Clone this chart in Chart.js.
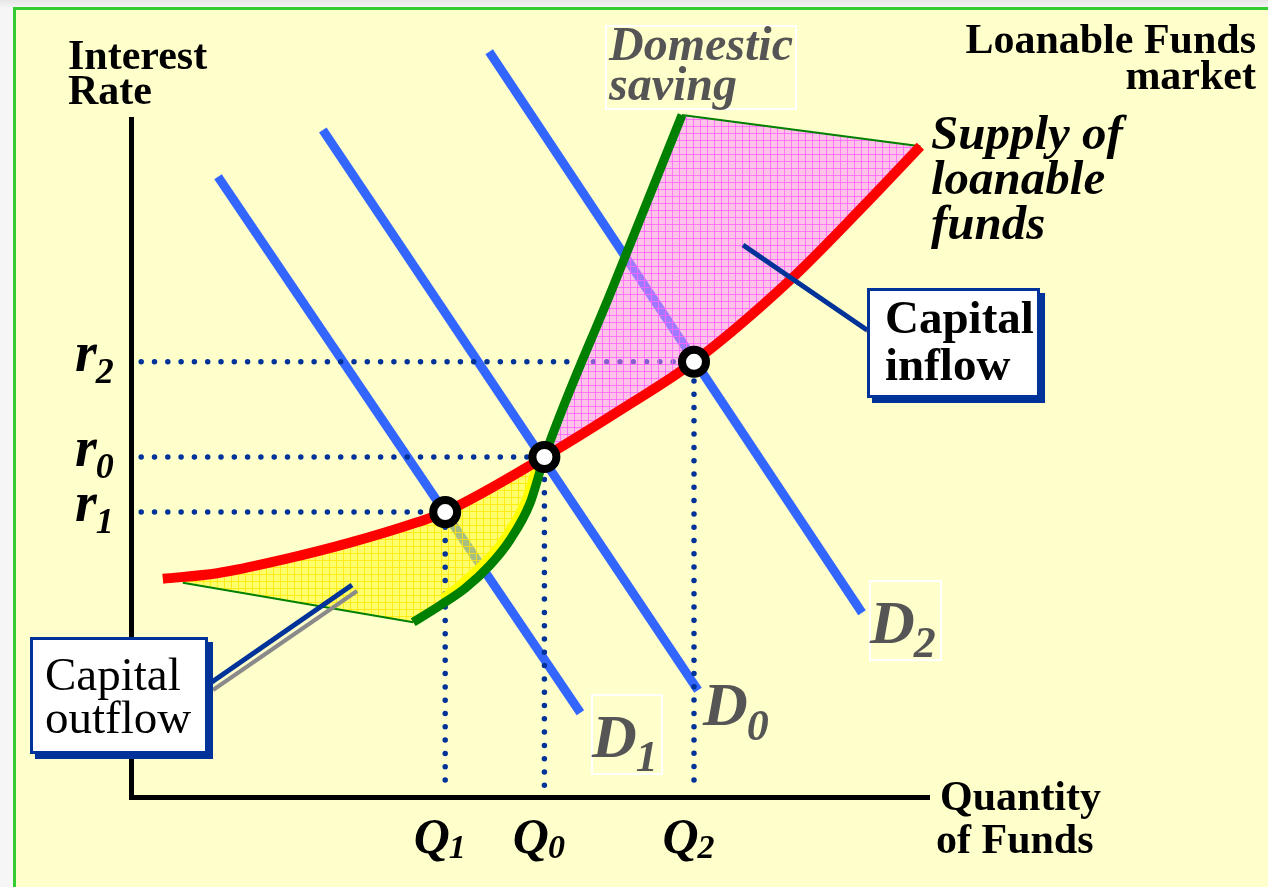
<!DOCTYPE html>
<html><head><meta charset="utf-8">
<script src="https://cdn.jsdelivr.net/npm/chart.js@4.4.1/dist/chart.umd.min.js"></script>
<style>html,body{margin:0;padding:0;background:#f2f2f2;}canvas{display:block}</style>
</head><body>
<canvas id="c" width="1268" height="887"></canvas>
<script>
// ---- data (quantity of funds on x, interest rate on y; both 0..100) ----
// Supply of loanable funds (red curve)
const supplyQ = [4.1, 10.9, 19.1, 27.5, 35.9, 39.4, 51.8, 61.3, 70.5, 82.5, 91.6, 98.8];
const supplyR = [32.1, 32.9, 34.9, 37.4, 40.4, 41.9, 50.0, 56.9, 64.0, 76.0, 86.8, 95.7];
// Domestic saving (green curve)
const savingQ = [35.4, 38.8, 41.9, 45.0, 47.5, 50.0, 51.8, 60.4, 69.0];
const savingR = [25.7, 28.2, 30.7, 34.1, 37.8, 43.2, 50.0, 75.1, 100.3];
// bright yellow edge just inside the saving curve
const edgeQ = [39.0, 41.4, 44.5, 46.9, 49.3, 50.6];
const edgeR = [29.3, 31.5, 34.9, 38.4, 43.5, 48.1];
// Demand curves
const d1Q = [11.0, 56.3], d1R = [91.2, 12.4];
const d0Q = [24.1, 71.0], d0R = [98.1, 15.7];
const d2Q = [44.9, 91.5], d2R = [109.6, 27.1];
// Equilibria: E1, E0, E2
const eqQ = [39.4, 51.8, 70.5];
const eqR = [41.9, 50.0, 64.0];
const eqSubs = ['1', '0', '2'];
const demandSubs = ['1', '0', '2'];
const guideStart = 1.4, guideBottom = 1.5;

const SERIF = '"Liberation Serif","Times New Roman",serif';
const NAVY = '#003399', BLUE = '#3366ff';
const pts = (xs, ys) => xs.map((x, i) => ({x, y: ys[i]}));
const SUP_E0 = supplyQ.indexOf(eqQ[1]);
const SAV_E0 = savingQ.indexOf(eqQ[1]);

function patternCanvas(base, line, size) {
  const c = document.createElement('canvas'); c.width = c.height = size;
  const g = c.getContext('2d');
  g.fillStyle = base; g.fillRect(0, 0, size, size);
  g.fillStyle = line; g.fillRect(0, 0, size, 1); g.fillRect(0, 0, 1, size);
  return c;
}
const pinkPat = patternCanvas('rgba(255,140,255,0.52)', 'rgba(255,100,255,0.8)', 7);
const yellowPat = patternCanvas('rgba(255,255,40,0.58)', 'rgba(255,230,0,0.8)', 7);

function metaByKey(chart, key) {
  const i = chart.data.datasets.findIndex(d => d.key === key);
  const m = chart.getDatasetMeta(i);
  if (m.dataset && m.dataset.updateControlPoints) m.dataset.updateControlPoints(chart.chartArea, 'x');
  return m;
}
function range(a, b) { const r = []; if (a <= b) for (let i = a; i <= b; i++) r.push(i); else for (let i = a; i >= b; i--) r.push(i); return r; }
function trace(ctx, meta, idxs, first) {
  const P = meta.data;
  idxs.forEach((id, k) => {
    const p = P[id];
    if (k === 0) { first ? ctx.moveTo(p.x, p.y) : ctx.lineTo(p.x, p.y); return; }
    const q = P[idxs[k - 1]];
    if (id > idxs[k - 1]) {
      if (q.cp2x !== undefined && p.cp1x !== undefined) ctx.bezierCurveTo(q.cp2x, q.cp2y, p.cp1x, p.cp1y, p.x, p.y); else ctx.lineTo(p.x, p.y);
    } else {
      if (q.cp1x !== undefined && p.cp2x !== undefined) ctx.bezierCurveTo(q.cp1x, q.cp1y, p.cp2x, p.cp2y, p.x, p.y); else ctx.lineTo(p.x, p.y);
    }
  });
}
function drawRegion(chart, which) {
  const ctx = chart.ctx;
  const sup = metaByKey(chart, 'supply'), sav = metaByKey(chart, 'saving');
  const last = savingQ.length - 1;
  ctx.save(); ctx.beginPath();
  if (which === 'outflow') {
    trace(ctx, sup, range(0, SUP_E0), true);
    trace(ctx, sav, range(SAV_E0, 0), false);
    ctx.closePath();
    ctx.fillStyle = ctx.createPattern(yellowPat, 'repeat');
  } else {
    trace(ctx, sav, range(SAV_E0, last), true);
    trace(ctx, sup, range(supplyQ.length - 1, SUP_E0), false);
    ctx.closePath();
    ctx.fillStyle = ctx.createPattern(pinkPat, 'repeat');
  }
  ctx.fill(); ctx.restore();
}
function txt(ctx, s, x, y, font, color, align) {
  ctx.font = font; ctx.fillStyle = color; ctx.textAlign = align || 'left'; ctx.textBaseline = 'alphabetic';
  ctx.fillText(s, x, y);
}
function subLabel(ctx, main, sub, x, y, mainPx, subPx, subDy, color, center) {
  ctx.textBaseline = 'alphabetic'; ctx.textAlign = 'left';
  const mf = 'italic bold ' + mainPx + 'px ' + SERIF, sf = 'italic bold ' + subPx + 'px ' + SERIF;
  ctx.font = mf; const w = ctx.measureText(main).width;
  ctx.font = sf; const ws = ctx.measureText(sub).width;
  const sx = center ? x - (w + ws) / 2 : x;
  txt(ctx, main, sx, y, mf, color);
  txt(ctx, sub, sx + w - 1, y + subDy, sf, color);
}
function box(ctx, x, y, w, h) {
  ctx.fillStyle = NAVY; ctx.fillRect(x + 5, y + 5, w, h);
  ctx.fillStyle = '#fff'; ctx.fillRect(x, y, w, h);
  ctx.strokeStyle = NAVY; ctx.lineWidth = 3; ctx.strokeRect(x + 1.5, y + 1.5, w - 3, h - 3);
}
function seg(ctx, x1, y1, x2, y2, color, w) {
  ctx.strokeStyle = color; ctx.lineWidth = w; ctx.lineCap = 'butt';
  ctx.beginPath(); ctx.moveTo(x1, y1); ctx.lineTo(x2, y2); ctx.stroke();
}

const diagram = {
  id: 'diagram',
  beforeDraw(chart) {
    const ctx = chart.ctx;
    ctx.save();
    const g = ctx.createLinearGradient(0, 0, 0, 8);
    g.addColorStop(0, '#e6e6e6'); g.addColorStop(1, '#f6f6f6');
    ctx.fillStyle = '#f6f6f6'; ctx.fillRect(0, 0, 1268, 887);
    ctx.fillStyle = g; ctx.fillRect(0, 0, 1268, 8);
    ctx.fillStyle = '#ffffcc'; ctx.fillRect(14, 8, 1268, 887);
    ctx.strokeStyle = '#33cc33'; ctx.lineWidth = 3; ctx.strokeRect(14.5, 8.5, 1300, 1000);
    ctx.restore();
  },
  beforeDatasetsDraw(chart) {
    const ctx = chart.ctx, xs = chart.scales.x, ys = chart.scales.y;
    const x0 = xs.getPixelForValue(0), y0 = ys.getPixelForValue(0);
    ctx.save();
    seg(ctx, x0 + 1.5, ys.getPixelForValue(100), x0 + 1.5, y0 + 3, '#000', 5);
    seg(ctx, x0 - 1, y0 + 0.5, xs.getPixelForValue(100), y0 + 0.5, '#000', 5);
    ctx.restore();
  },
  beforeDatasetDraw(chart, args) {
    const ds = chart.data.datasets[args.index];
    if (ds.regionBefore) drawRegion(chart, ds.regionBefore);
  },
  afterDatasetsDraw(chart) {
    const ctx = chart.ctx, xs = chart.scales.x, ys = chart.scales.y;
    ctx.save();
    // axis titles
    const B42 = 'bold 42px ' + SERIF;
    txt(ctx, 'Interest', 68, 69, B42, '#000');
    txt(ctx, 'Rate', 68, 104, B42, '#000');
    txt(ctx, 'Loanable Funds', 1256, 53, B42, '#000', 'right');
    txt(ctx, 'market', 1256, 89, B42, '#000', 'right');
    txt(ctx, 'Quantity', 940, 810, B42, '#000');
    txt(ctx, 'of Funds', 936, 853, B42, '#000');
    // curve names
    ctx.strokeStyle = '#ffffff'; ctx.lineWidth = 2; ctx.strokeRect(606, 26, 190, 83);
    const BIdom = 'italic bold 48px ' + SERIF;
    txt(ctx, 'Domestic', 609, 60, BIdom, '#555555');
    txt(ctx, 'saving', 609, 100, BIdom, '#555555');
    const BIsup = 'italic bold 49px ' + SERIF;
    txt(ctx, 'Supply of', 931, 149, BIsup, '#000');
    txt(ctx, 'loanable', 931, 194, BIsup, '#000');
    txt(ctx, 'funds', 931, 239, BIsup, '#000');
    // demand labels
    ctx.strokeStyle = '#ffffff'; ctx.lineWidth = 2;
    ctx.strokeRect(592, 695, 70, 79); ctx.strokeRect(870, 581, 71, 79);
    subLabel(ctx, 'D', demandSubs[0], 592, 757, 62, 44, 14, '#555555');
    subLabel(ctx, 'D', demandSubs[1], 703, 725, 62, 44, 15, '#555555');
    subLabel(ctx, 'D', demandSubs[2], 870, 643, 62, 44, 14, '#555555');
    // tick labels
    eqQ.forEach((q, i) => {
      subLabel(ctx, 'Q', eqSubs[i], xs.getPixelForValue(q) - 5, 853, 50, 34, 5, '#000', true);
      subLabel(ctx, 'r', eqSubs[i], 75, ys.getPixelForValue(eqR[i]) + 9, 56, 36, 12, '#000');
    });
    // pointers
    seg(ctx, 746, 248, 870, 333, '#8a8a8a', 3);
    seg(ctx, 743, 245, 867, 330, NAVY, 5);
    seg(ctx, 357, 591, 213, 690, '#8a8a8a', 4);
    seg(ctx, 352, 585, 209, 684, NAVY, 5);
    // callout boxes
    box(ctx, 867, 288, 173, 110);
    txt(ctx, 'Capital', 885, 333, 'bold 47px ' + SERIF, '#000');
    txt(ctx, 'inflow', 885, 380, 'bold 47px ' + SERIF, '#000');
    box(ctx, 30, 637, 178, 117);
    txt(ctx, 'Capital', 45, 690, '47px ' + SERIF, '#000');
    txt(ctx, 'outflow', 45, 733, '47px ' + SERIF, '#000');
    ctx.restore();
  }
};

const lineDs = (key, data, color, width, order, extra) => Object.assign({
  key, data, showLine: true, borderColor: color, borderWidth: width, pointRadius: 0,
  pointHoverRadius: 0, fill: false, order, clip: false, tension: 0
}, extra || {});

const guides = eqQ.map((q, i) => lineDs('guide' + i,
  [{x: guideStart, y: eqR[i]}, {x: q, y: eqR[i]}, {x: q, y: guideBottom}],
  NAVY, 5.5, 90 - i, {borderDash: [0, 13.3], borderCapStyle: 'round', regionBefore: i === 0 ? 'outflow' : undefined}));

const datasets = [
  lineDs('d1', pts(d1Q, d1R), BLUE, 9, 100),
  lineDs('d0', pts(d0Q, d0R), BLUE, 9, 99),
  lineDs('d2', pts(d2Q, d2R), BLUE, 9, 98),
  ...guides,
  lineDs('edgeLow', [{x: savingQ[0], y: savingR[0]}, {x: supplyQ[0] + 2.5, y: supplyR[0] - 0.6}], '#008000', 2, 80, {regionBefore: 'inflow'}),
  lineDs('edgeHigh', [{x: savingQ[savingQ.length - 1], y: savingR[savingR.length - 1]}, {x: supplyQ[supplyQ.length - 1], y: supplyR[supplyR.length - 1]}], '#008000', 2, 79),
  lineDs('yband', pts(edgeQ, edgeR), '#ffff00', 7, 70, {cubicInterpolationMode: 'monotone', capBezierPoints: false}),
  lineDs('supply', pts(supplyQ, supplyR), '#ff0000', 10, 60, {cubicInterpolationMode: 'monotone', capBezierPoints: false}),
  lineDs('saving', pts(savingQ, savingR), '#008000', 9, 50, {cubicInterpolationMode: 'monotone', capBezierPoints: false}),
  {key: 'eq', data: pts(eqQ, eqR), showLine: false, pointRadius: 12, pointBorderWidth: 8,
   pointBackgroundColor: '#ffffff', pointBorderColor: '#000000', order: 10, clip: false, pointHoverRadius: 12}
];

new Chart(document.getElementById('c'), {
  type: 'scatter',
  data: {datasets},
  options: {
    responsive: false, animation: false, events: [],
    layout: {padding: {left: 130, right: 338, top: 117, bottom: 90}},
    scales: {
      x: {type: 'linear', min: 0, max: 100, display: false},
      y: {type: 'linear', min: 0, max: 100, display: false}
    },
    plugins: {legend: {display: false}, tooltip: {enabled: false}}
  },
  plugins: [diagram]
});
</script>
</body></html>
